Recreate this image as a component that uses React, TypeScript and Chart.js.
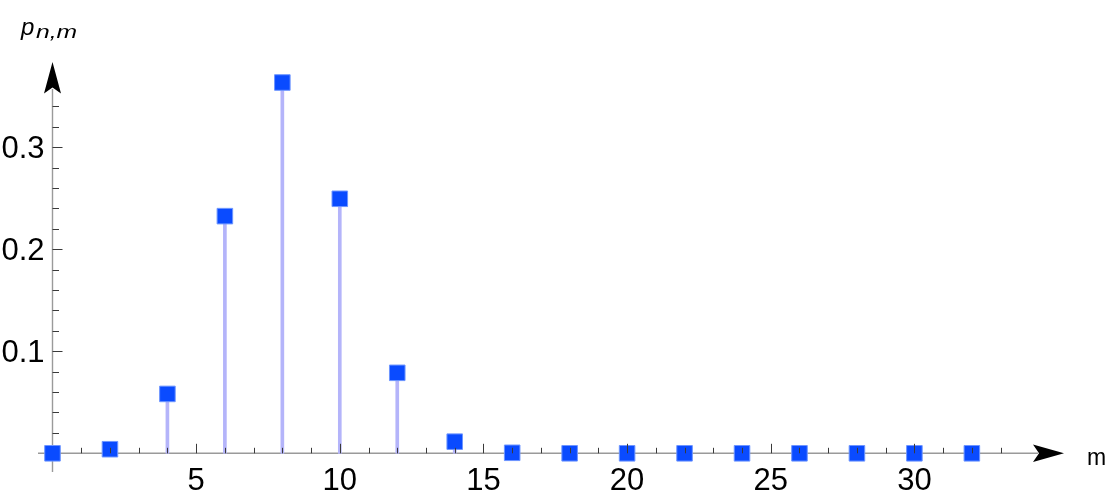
import React, { useEffect, useRef } from 'react';
import { Chart, registerables } from 'chart.js';

Chart.register(...registerables);

// m values (even only) and probabilities p_{n,m}
const mValues = [0, 2, 4, 6, 8, 10, 12, 14, 16, 18, 20, 22, 24, 26, 28, 30, 32];
const pValues = [0, 0.004, 0.0582, 0.2325, 0.3635, 0.2495, 0.0789, 0.0114, 0.0005, 0.00001, 0, 0, 0, 0, 0, 0, 0];

// axis ticks
const xMajorTicks = [5, 10, 15, 20, 25, 30];
const xMinorTicks = [1, 2, 3, 4, 6, 7, 8, 9, 11, 12, 13, 14, 16, 17, 18, 19, 21, 22, 23, 24, 26, 27, 28, 29, 31, 32, 33];
const xTickLabels = ['5', '10', '15', '20', '25', '30'];
const yMajorTicks = [0.1, 0.2, 0.3];
const yMinorTicks = [0.02, 0.04, 0.06, 0.08, 0.12, 0.14, 0.16, 0.18, 0.22, 0.24, 0.26, 0.28, 0.32, 0.34];
const yTickLabels = ['0.1', '0.2', '0.3'];

const axesPlugin = {
  id: 'mmaAxes',
  beforeDatasetsDraw(chart: any) {
    const { ctx, chartArea, scales } = chart;
    const xs = scales.x;
    const ys = scales.y;
    const x0 = xs.getPixelForValue(0);
    const y0 = ys.getPixelForValue(0);
    ctx.save();
    ctx.strokeStyle = '#9a9a9a';
    ctx.lineWidth = 1.4;
    ctx.beginPath();
    ctx.moveTo(chartArea.left, y0);
    ctx.lineTo(chartArea.right - 26, y0);
    ctx.moveTo(x0, chartArea.bottom);
    ctx.lineTo(x0, chartArea.top + 27);
    ctx.stroke();
    // arrowheads
    ctx.fillStyle = '#000';
    const tx = chartArea.right;
    ctx.beginPath();
    ctx.moveTo(tx, y0);
    ctx.lineTo(tx - 31, y0 - 8.7);
    ctx.lineTo(tx - 25, y0);
    ctx.lineTo(tx - 31, y0 + 8.7);
    ctx.closePath();
    ctx.fill();
    const ty = chartArea.top;
    ctx.beginPath();
    ctx.moveTo(x0, ty);
    ctx.lineTo(x0 - 8.5, ty + 31.5);
    ctx.lineTo(x0, ty + 25.5);
    ctx.lineTo(x0 + 8.5, ty + 31.5);
    ctx.closePath();
    ctx.fill();
    ctx.restore();
  },
  afterDatasetsDraw(chart: any) {
    const { ctx, scales } = chart;
    const xs = scales.x;
    const ys = scales.y;
    const x0 = xs.getPixelForValue(0);
    const y0 = ys.getPixelForValue(0);
    ctx.save();
    ctx.strokeStyle = '#3a3a3a';
    ctx.lineWidth = 1;
    ctx.beginPath();
    xMinorTicks.forEach((v) => {
      const px = Math.round(xs.getPixelForValue(v)) + 0.5;
      ctx.moveTo(px, y0);
      ctx.lineTo(px, y0 - 5.5);
    });
    xMajorTicks.forEach((v) => {
      const px = Math.round(xs.getPixelForValue(v)) + 0.5;
      ctx.moveTo(px, y0);
      ctx.lineTo(px, y0 - 9.5);
    });
    yMinorTicks.forEach((v) => {
      const py = Math.round(ys.getPixelForValue(v)) + 0.5;
      ctx.moveTo(x0, py);
      ctx.lineTo(x0 + 6.5, py);
    });
    yMajorTicks.forEach((v) => {
      const py = Math.round(ys.getPixelForValue(v)) + 0.5;
      ctx.moveTo(x0, py);
      ctx.lineTo(x0 + 10, py);
    });
    ctx.stroke();

    // tick labels
    ctx.fillStyle = '#000';
    ctx.font = '31px "Liberation Sans", Arial, sans-serif';
    ctx.textBaseline = 'alphabetic';
    ctx.textAlign = 'center';
    xMajorTicks.forEach((v, i) => {
      ctx.fillText(xTickLabels[i], xs.getPixelForValue(v), y0 + 37);
    });
    ctx.textAlign = 'right';
    yMajorTicks.forEach((v, i) => {
      ctx.fillText(yTickLabels[i], x0 - 8, ys.getPixelForValue(v) + 11);
    });

    // axis labels
    ctx.textAlign = 'left';
    ctx.font = '23px "Liberation Sans", Arial, sans-serif';
    ctx.fillText('m', 1087, 465);

    ctx.font = 'italic 24px "Liberation Sans", Arial, sans-serif';
    ctx.fillText('p', 21, 35);
    ctx.save();
    ctx.translate(36, 37.5);
    ctx.scale(1.3, 1);
    ctx.font = 'italic 19px "Liberation Sans", Arial, sans-serif';
    ctx.fillText('n,m', 0, 0);
    ctx.restore();
    ctx.restore();
  },
};

export default function App() {
  const canvasRef = useRef<HTMLCanvasElement | null>(null);

  useEffect(() => {
    if (!canvasRef.current) return;
    const points = mValues.map((m, i) => ({ x: m, y: pValues[i] }));
    const chart = new Chart(canvasRef.current, {
      type: 'scatter',
      data: {
        datasets: [
          {
            type: 'scatter',
            label: 'p',
            data: points,
            pointStyle: 'rect',
            pointRadius: 11,
            pointHoverRadius: 11,
            backgroundColor: '#0a4bff',
            borderColor: 'rgba(110,150,255,1)',
            borderWidth: 1,
            order: 1,
          } as any,
          {
            type: 'bar',
            label: 'stem',
            data: points,
            barThickness: 3,
            backgroundColor: 'rgb(180,180,250)',
            borderWidth: 0,
            order: 2,
          } as any,
        ],
      },
      options: {
        animation: false,
        responsive: false,
        maintainAspectRatio: false,
        layout: { padding: { left: 38, right: 48, top: 62, bottom: 27 } },
        plugins: {
          legend: { display: false },
          tooltip: { enabled: false },
          title: { display: false },
        },
        events: [],
        scales: {
          x: {
            type: 'linear',
            min: -0.5047,
            max: 35.207,
            offset: false,
            display: false,
          },
          y: {
            type: 'linear',
            min: -0.01833,
            max: 0.3836,
            display: false,
          },
        },
      },
      plugins: [axesPlugin],
    });
    return () => chart.destroy();
  }, []);

  return (
    <div style={{ position: 'absolute', left: 0, top: 0, width: 1112, height: 499, background: '#fff' }}>
      <canvas ref={canvasRef} width={1112} height={499} style={{ width: 1112, height: 499, display: 'block' }} />
    </div>
  );
}
